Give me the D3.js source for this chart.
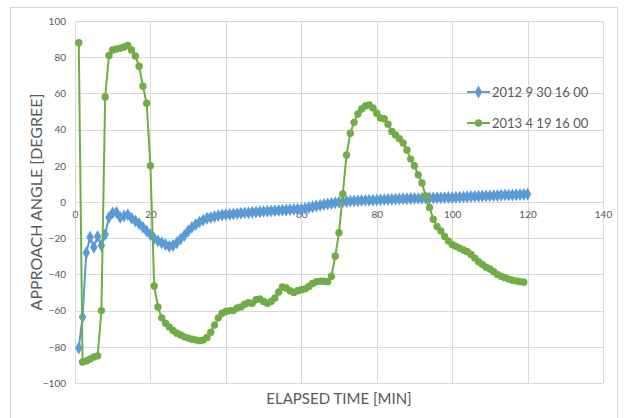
<!DOCTYPE html>
<html>
<head>
<meta charset="utf-8">
<script src="https://cdn.jsdelivr.net/npm/d3@7"></script>
<style>
  html, body { margin: 0; padding: 0; background: #fff; }
  svg { display: block; }
  text { font-family: Lato, "Open Sans", sans-serif; }
</style>
</head>
<body>
<svg id="chart" width="624" height="418"></svg>
<script>
// ---- data ----
const seriesNames = ["2012 9 30 16 00", "2013 4 19 16 00"];

const minutes = [1,2,3,4,5,6,7,8,9,10,11,12,13,14,15,16,17,18,19,20,
  21,22,23,24,25,26,27,28,29,30,31,32,33,34,35,36,37,38,39,40,
  41,42,43,44,45,46,47,48,49,50,51,52,53,54,55,56,57,58,59,60,
  61,62,63,64,65,66,67,68,69,70,71,72,73,74,75,76,77,78,79,80,
  81,82,83,84,85,86,87,88,89,90,91,92,93,94,95,96,97,98,99,100,
  101,102,103,104,105,106,107,108,109,110,111,112,113,114,115,116,117,118,119,120];

const angle2012 = [-80.7,-63.5,-28,-19.5,-25,-19,-24,-18,-8.5,-6,
  -5.8,-8.5,-7.7,-7,-9,-10.5,-12,-14,-16,-18,
  -20,-21.5,-22.5,-23.5,-24.5,-24,-22.5,-20.5,-18.5,-16,
  -14,-12.5,-11,-10,-9,-8.5,-8,-7.5,-7.2,-7,
  -6.8,-6.6,-6.4,-6.2,-6,-5.9,-5.7,-5.5,-5.4,-5.2,
  -5.1,-5,-4.8,-4.7,-4.5,-4.4,-4.3,-4.1,-4,-3.9,
  -3.5,-3,-2.6,-2.2,-1.8,-1.4,-1.1,-0.8,-0.4,-0.1,
  0.1,0.3,0.5,0.6,0.7,0.8,0.9,1,1,1.1,
  1.2,1.3,1.4,1.5,1.6,1.7,1.8,1.8,1.9,2,
  2,2.1,2.1,2.2,2.2,2.3,2.3,2.4,2.5,2.5,
  2.6,2.7,2.8,2.9,3,3.1,3.2,3.3,3.4,3.4,
  3.5,3.6,3.7,3.8,3.8,3.9,4,4.1,4.2,4.3];

const angle2013 = [88,-88.4,-87.8,-86.7,-85.6,-85,-60,58,81,84,
  84.5,85,85.6,86.5,84,80.7,75,64,54.6,20,
  -46.4,-58,-64,-67,-69,-71,-72.5,-73.5,-74.5,-75.2,
  -75.8,-76.2,-76.6,-76.3,-74.8,-72,-68,-64,-61.5,-60.5,
  -60,-60,-58.6,-58,-56.5,-55.7,-56,-54,-53.6,-55,
  -56,-55,-53,-49.7,-47,-47.5,-49,-50,-49,-48.5,
  -48,-46.7,-45,-44,-43.7,-43.8,-44,-41,-30,-17,
  4.4,26,38,44,48.6,51.4,53,53.6,52,49,
  46.4,46,43,39,37,35,32.6,28.7,23.7,20,
  15,10.5,3.3,-3,-9.5,-13.5,-16,-19,-21.5,-23.5,
  -24.5,-25.5,-26.5,-27.5,-29,-31,-33,-34.5,-36,-37,
  -38.5,-40,-41,-41.8,-42.6,-43.2,-43.6,-44,-44.3];

const xTicks = [0,20,40,60,80,100,120,140];
const yTicks = [-100,-80,-60,-40,-20,0,20,40,60,80,100];
const xTitle = "ELAPSED TIME [MIN]";
const yTitle = "APPROACH ANGLE [DEGREE]";

// ---- drawing ----
const svg = d3.select("#chart");
const W = 624, H = 418;
const colors = ["#5b9bd5", "#70ad47"];
const gridColor = "#d9d9d9";
const textColor = "#595959";

svg.append("rect").attr("x", 0).attr("y", 0).attr("width", W).attr("height", H).attr("fill", "#fff");
svg.append("rect").attr("x", 10.5).attr("y", 7.5).attr("width", 607).attr("height", 425)
  .attr("fill", "none").attr("stroke", gridColor).attr("stroke-width", 1);

const x = d3.scaleLinear().domain([0, 140]).range([75, 603]);
const y = d3.scaleLinear().domain([-100, 100]).range([383, 21]);

// grid
const grid = svg.append("g");
grid.selectAll("line.h").data(yTicks).join("line")
  .attr("x1", x(0)).attr("x2", x(140))
  .attr("y1", d => Math.round(y(d)) + 0.5).attr("y2", d => Math.round(y(d)) + 0.5)
  .attr("stroke", gridColor).attr("stroke-width", 1);
grid.selectAll("line.v").data(xTicks).join("line")
  .attr("y1", y(100)).attr("y2", y(-100))
  .attr("x1", d => Math.round(x(d)) + 0.5).attr("x2", d => Math.round(x(d)) + 0.5)
  .attr("stroke", gridColor).attr("stroke-width", 1);

// y axis labels
const yAxis = d3.axisLeft(y).tickValues(yTicks).tickSize(0).tickPadding(9);
const gy = svg.append("g").attr("transform", `translate(${x(0)},0)`).call(yAxis);
gy.select(".domain").remove();
gy.selectAll("text").attr("fill", textColor).style("font-size", "10px").style("font-family", "Lato, sans-serif");

// x axis labels at y = 0
const xAxis = d3.axisBottom(x).tickValues(xTicks).tickSize(0).tickPadding(9);
const gx = svg.append("g").attr("transform", `translate(0,${y(0)})`).call(xAxis);
gx.select(".domain").remove();
gx.selectAll("text").attr("fill", textColor).style("font-size", "10px").style("font-family", "Lato, sans-serif");

// titles
svg.append("text").attr("x", 339).attr("y", 404).attr("text-anchor", "middle")
  .attr("fill", textColor).style("font-size", "15px").text(xTitle);
svg.append("text").attr("transform", `translate(42,202) rotate(-90)`).attr("text-anchor", "middle")
  .attr("fill", textColor).style("font-size", "16px").text(yTitle);

// series
const diamond = d3.symbol().type(d3.symbolDiamond).size(48);
const seriesData = [
  minutes.map((t, i) => ({t, v: angle2012[i]})),
  minutes.slice(0, angle2013.length).map((t, i) => ({t, v: angle2013[i]}))
];
const line = d3.line().x(d => x(d.t)).y(d => y(d.v));

seriesData.forEach((data, si) => {
  const g = svg.append("g");
  g.append("path").datum(data).attr("d", line).attr("fill", "none")
    .attr("stroke", colors[si]).attr("stroke-width", 2).attr("stroke-linejoin", "round");
  if (si === 0) {
    g.selectAll("path.m").data(data).join("path").attr("class", "m")
      .attr("d", diamond).attr("transform", d => `translate(${x(d.t)},${y(d.v)})`)
      .attr("fill", colors[si]);
  } else {
    g.selectAll("circle").data(data).join("circle")
      .attr("cx", d => x(d.t)).attr("cy", d => y(d.v)).attr("r", 3.7)
      .attr("fill", colors[si]);
  }
});

// legend
const legendY = [92, 123];
const lg = svg.append("g");
seriesNames.forEach((name, i) => {
  lg.append("line").attr("x1", 467).attr("x2", 490).attr("y1", legendY[i]).attr("y2", legendY[i])
    .attr("stroke", colors[i]).attr("stroke-width", 2);
  if (i === 0) {
    lg.append("path").attr("d", diamond).attr("transform", `translate(478.5,${legendY[i]})`).attr("fill", colors[i]);
  } else {
    lg.append("circle").attr("cx", 478.5).attr("cy", legendY[i]).attr("r", 3.7).attr("fill", colors[i]);
  }
  lg.append("text").attr("x", 492).attr("y", legendY[i]).attr("dy", "0.35em")
    .attr("fill", textColor).style("font-size", "13px").text(name);
});
</script>
</body>
</html>
